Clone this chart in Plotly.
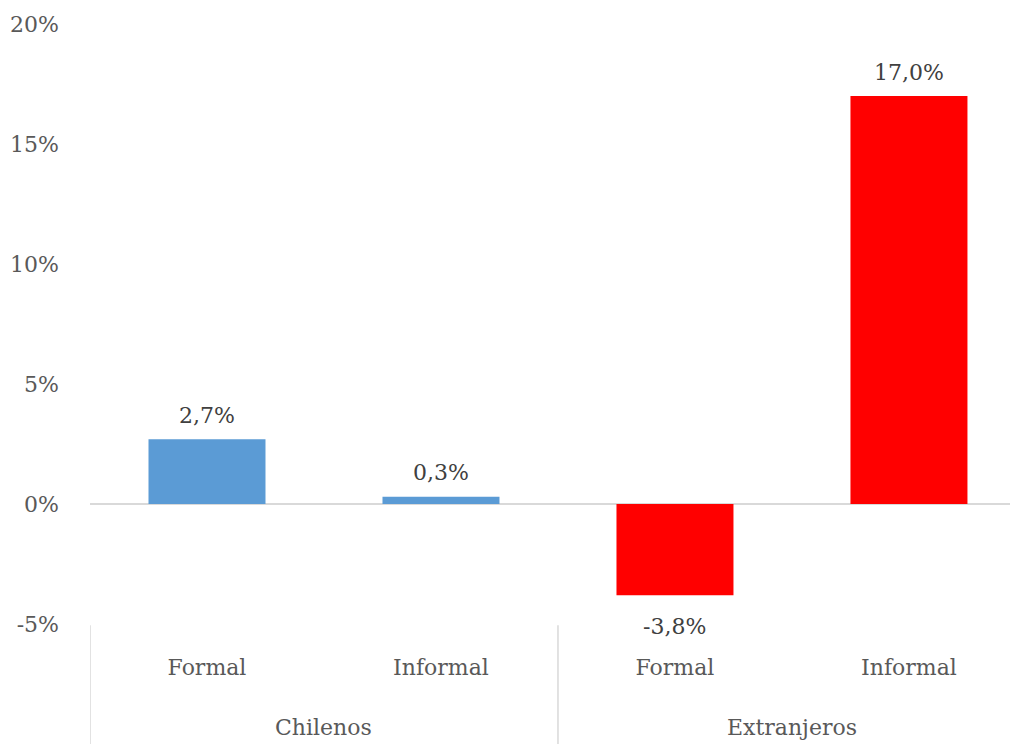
import plotly.graph_objects as go

# Data
groups = ["Chilenos", "Extranjeros"]
categories = ["Formal", "Informal", "Formal", "Informal"]
group_of = ["Chilenos", "Chilenos", "Extranjeros", "Extranjeros"]
values = [2.7, 0.3, -3.8, 17.0]
bar_colors = ["#5B9BD5", "#5B9BD5", "#FF0000", "#FF0000"]
y_ticks = [-5, 0, 5, 10, 15, 20]
y_ticktext = ["-5%", "0%", "5%", "10%", "15%", "20%"]

FONT = "DejaVu Serif"
GREY = "#595959"
SIZE = 22

x_pos = list(range(len(categories)))

fig = go.Figure()
fig.add_trace(go.Bar(
    x=x_pos,
    y=values,
    width=0.5,
    marker=dict(color=bar_colors, line=dict(width=0)),
    hoverinfo="skip",
))

# data labels
for xp, v in zip(x_pos, values):
    label = f"{v:.1f}%".replace(".", ",")
    fig.add_annotation(x=xp, y=v, xref="x", yref="y", text=label,
                       showarrow=False, yanchor="middle",
                       yshift=24 if v >= 0 else -31,
                       font=dict(family=FONT, size=SIZE, color="#404040"))

# group labels
for gi, g in enumerate(groups):
    idx = [i for i, gg in enumerate(group_of) if gg == g]
    center = sum(idx) / len(idx)
    fig.add_annotation(x=center, y=-0.173, xref="x", yref="paper",
                       text=g, showarrow=False, yanchor="middle",
                       font=dict(family=FONT, size=SIZE, color=GREY))

# group dividers
for xb in [-0.5, 1.5]:
    fig.add_shape(type="line", xref="x", yref="paper", x0=xb, x1=xb,
                  y0=-0.002, y1=-0.2, line=dict(color="#D9D9D9", width=1.5))

fig.update_layout(
    width=1010, height=736,
    margin=dict(l=82, r=0, t=16, b=120),
    plot_bgcolor="white", paper_bgcolor="white",
    showlegend=False,
    xaxis=dict(
        range=[-0.5, 3.466],
        tickvals=x_pos, ticktext=categories,
        showgrid=False, zeroline=False, showline=False, ticks="",
        tickfont=dict(family=FONT, size=SIZE, color=GREY),
        ticklabelstandoff=28,
    ),
    yaxis=dict(
        range=[-5, 20],
        tickvals=y_ticks, ticktext=y_ticktext,
        showgrid=False, zeroline=True, zerolinecolor="#D9D9D9", zerolinewidth=1.5,
        showline=False, ticks="",
        tickfont=dict(family=FONT, size=SIZE, color=GREY),
        ticklabelstandoff=30,
    ),
)

fig.write_html("out.html")
